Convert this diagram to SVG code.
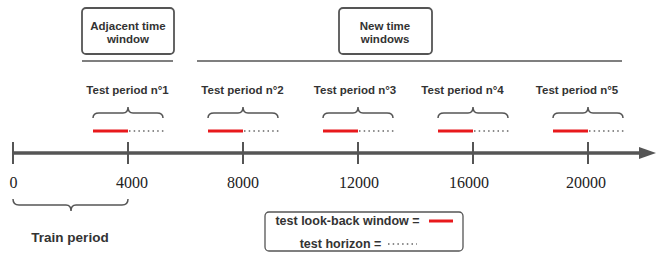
<svg xmlns="http://www.w3.org/2000/svg" width="664" height="259" viewBox="0 0 664 259">
<defs>
<style>
.box{fill:#fff;stroke:#555;stroke-width:1.8}
.lbl{font-family:"Liberation Sans",Arial,sans-serif;font-weight:bold;fill:#333;text-anchor:middle}
.num{font-family:"Liberation Serif","Times New Roman",serif;font-size:16px;fill:#222;text-anchor:middle}
.brace{fill:none;stroke:#555;stroke-width:1.5}
.red{stroke:#e8191c;stroke-width:3}
.dots{stroke:#666;stroke-width:1.6;stroke-dasharray:1.5 3.2}
.sep{stroke:#555;stroke-width:1.5}
.tick{stroke:#555;stroke-width:2}
</style>
</defs>
<rect width="664" height="259" fill="#fff"/>

<g id="adjacent-window">
<rect class="box" x="82" y="8" width="92" height="46" rx="4"/>
<text class="lbl" font-size="11.5" x="128" y="30">Adjacent time</text>
<text class="lbl" font-size="11.5" x="128" y="43">window</text>
</g>

<g id="new-windows">
<rect class="box" x="339" y="8" width="93" height="46" rx="4"/>
<text class="lbl" font-size="11.5" x="385" y="30">New time</text>
<text class="lbl" font-size="11.5" x="385" y="43">windows</text>
</g>

<g id="connectors">
<line class="sep" x1="82" y1="61" x2="173" y2="61"/>
<line class="sep" x1="197" y1="61" x2="622" y2="61"/>
</g>

<g id="test-period-1">
<text class="lbl" font-size="11.5" x="127.5" y="94">Test period n°1</text>
<path class="brace" d="M93,118 Q93,113 99,113 L123,113 Q128,113 128,107 Q128,113 133,113 L157,113 Q163,113 163,118"/>
<line class="red" x1="93" y1="131" x2="128" y2="131"/>
<line class="dots" x1="129" y1="131" x2="164" y2="131"/>
</g>

<g id="test-period-2">
<text class="lbl" font-size="11.5" x="242.5" y="94">Test period n°2</text>
<path class="brace" d="M208,118 Q208,113 214,113 L238,113 Q243,113 243,107 Q243,113 248,113 L272,113 Q278,113 278,118"/>
<line class="red" x1="208" y1="131" x2="243" y2="131"/>
<line class="dots" x1="244" y1="131" x2="279" y2="131"/>
</g>

<g id="test-period-3">
<text class="lbl" font-size="11.5" x="355" y="94">Test period n°3</text>
<path class="brace" d="M323,118 Q323,113 329,113 L353,113 Q358,113 358,107 Q358,113 363,113 L387,113 Q393,113 393,118"/>
<line class="red" x1="323" y1="131" x2="358" y2="131"/>
<line class="dots" x1="359" y1="131" x2="394" y2="131"/>
</g>

<g id="test-period-4">
<text class="lbl" font-size="11.5" x="462.5" y="94">Test period n°4</text>
<path class="brace" d="M438,118 Q438,113 444,113 L468,113 Q473,113 473,107 Q473,113 478,113 L502,113 Q508,113 508,118"/>
<line class="red" x1="438" y1="131" x2="473" y2="131"/>
<line class="dots" x1="474" y1="131" x2="509" y2="131"/>
</g>

<g id="test-period-5">
<text class="lbl" font-size="11.5" x="577" y="94">Test period n°5</text>
<path class="brace" d="M553,118 Q553,113 559,113 L583,113 Q588,113 588,107 Q588,113 593,113 L617,113 Q623,113 623,118"/>
<line class="red" x1="553" y1="131" x2="588" y2="131"/>
<line class="dots" x1="589" y1="131" x2="624" y2="131"/>
</g>

<g id="axis">
<line x1="13" y1="153" x2="642" y2="153" stroke="#555" stroke-width="3.5"/>
<polygon points="639,147 656,153 639,159" fill="#555"/>
<line class="tick" x1="13" y1="142" x2="13" y2="164"/>
<line class="tick" x1="128" y1="142" x2="128" y2="164"/>
<line class="tick" x1="243" y1="142" x2="243" y2="164"/>
<line class="tick" x1="358" y1="142" x2="358" y2="164"/>
<line class="tick" x1="473" y1="142" x2="473" y2="164"/>
<line class="tick" x1="588" y1="142" x2="588" y2="164"/>
<text class="num" x="13.5" y="188">0</text>
<text class="num" x="132" y="188">4000</text>
<text class="num" x="243" y="188">8000</text>
<text class="num" x="359" y="188">12000</text>
<text class="num" x="469" y="188">16000</text>
<text class="num" x="586" y="188">20000</text>
</g>

<g id="train-period">
<path class="brace" d="M13,199 Q13,205 19,205 L66,205 Q71,205 71,211 Q71,205 76,205 L122,205 Q128,205 128,199"/>
<text class="lbl" font-size="13.5" x="70" y="242">Train period</text>
</g>

<g id="legend">
<rect x="265" y="212" width="198" height="39" rx="4" fill="#fff" stroke="#555" stroke-width="1.3"/>
<text class="lbl" font-size="12.5" x="347.5" y="225">test look-back window =</text>
<line class="red" x1="429" y1="221" x2="453" y2="221"/>
<text class="lbl" font-size="12.5" x="340.5" y="248">test horizon =</text>
<line class="dots" x1="388" y1="244" x2="417" y2="244"/>
</g>
</svg>
